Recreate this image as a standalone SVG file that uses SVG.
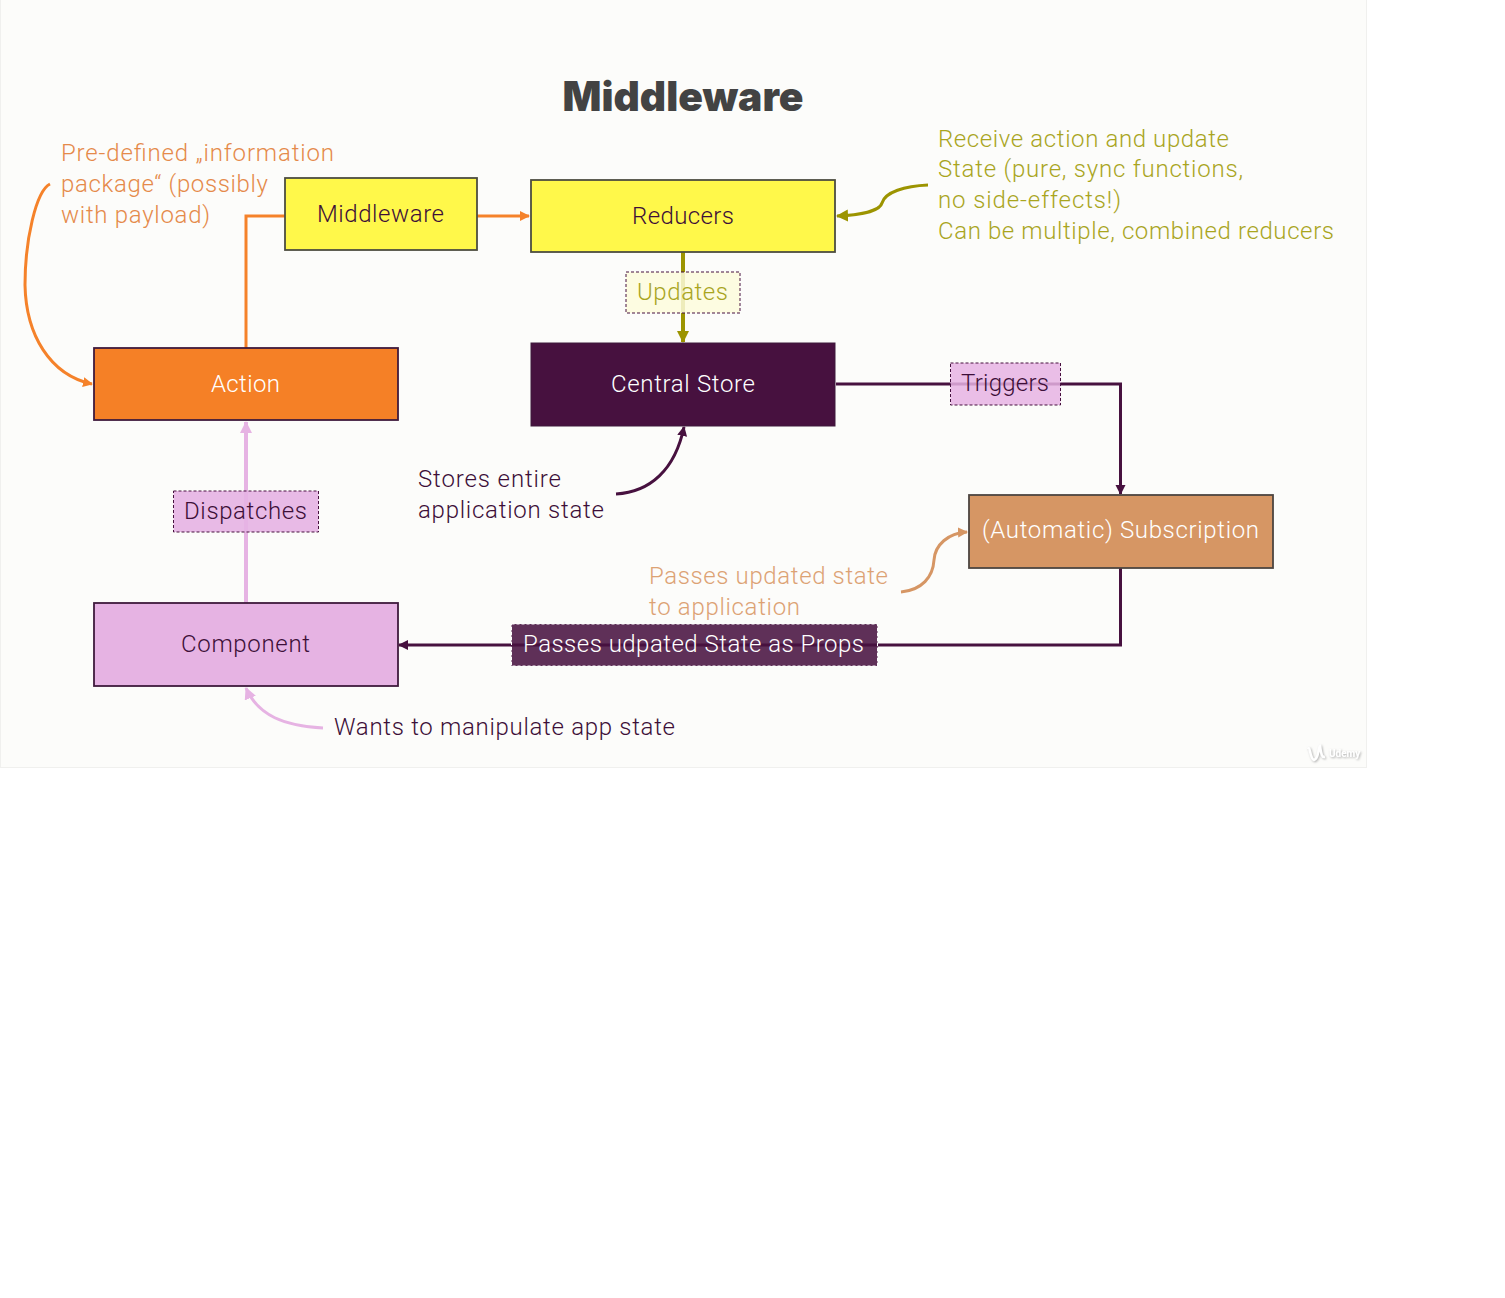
<svg xmlns="http://www.w3.org/2000/svg" width="1505" height="1298" viewBox="0 0 1505 1298">
<style>
text{font-family:"Roboto","Liberation Sans",sans-serif;font-weight:300;font-size:24px}
.c{text-anchor:middle}
.box{stroke:#3f1a3c;stroke-width:1.800}
.lab{stroke-width:1;stroke-dasharray:3 2}
.ln{fill:none;stroke-width:3}
.o{stroke:#f5822a}.p{stroke:#47113f}.l{stroke:#e6b3e3}.y{stroke:#9c9400}.t{stroke:#d69664}
.to{fill:#e58a4a}.ty{fill:#a9a51e}.tt{fill:#dca274}.td{fill:#3d0f38}.tw{fill:#fff}
</style>
<defs>
<marker id="ao" markerWidth="12" markerHeight="12" refX="9" refY="5" orient="auto" markerUnits="userSpaceOnUse"><path d="M0 0L10 5L0 10z" fill="#f5822a"/></marker>
<marker id="ap" markerWidth="12" markerHeight="12" refX="9" refY="5" orient="auto" markerUnits="userSpaceOnUse"><path d="M0 0L10 5L0 10z" fill="#47113f"/></marker>
<marker id="al" markerWidth="14" markerHeight="14" refX="11" refY="6" orient="auto" markerUnits="userSpaceOnUse"><path d="M0 0L12 6L0 12z" fill="#e6b3e3"/></marker>
<marker id="ay" markerWidth="14" markerHeight="14" refX="11" refY="6" orient="auto" markerUnits="userSpaceOnUse"><path d="M0 0L12 6L0 12z" fill="#9c9400"/></marker>
<marker id="at" markerWidth="12" markerHeight="12" refX="9" refY="5" orient="auto" markerUnits="userSpaceOnUse"><path d="M0 0L10 5L0 10z" fill="#d69664"/></marker>
<filter id="sh" x="-20%" y="-40%" width="140%" height="180%"><feDropShadow dx="1" dy="1" stdDeviation="1" flood-color="#999" flood-opacity=".8"/></filter>
</defs>
<rect width="1505" height="1298" fill="#fff"/>
<rect id="slide" x=".5" y="-1" width="1366" height="768.500" fill="#fcfcfa" stroke="#f0f0ee"/>
<text id="title" x="683" y="111" class="c" textLength="241" lengthAdjust="spacingAndGlyphs" style="font-family:'Inter','Lato',sans-serif;font-weight:900;font-size:41px" fill="#434343">Middleware</text>

<g id="connectors">
<path class="ln o" d="M246 348V216H285"/>
<path class="ln o" d="M477 216H529" marker-end="url(#ao)"/>
<path class="ln y" d="M683 252V342" style="stroke-width:4" marker-end="url(#ay)"/>
<path class="ln p" d="M836 384H1120.500V494" marker-end="url(#ap)"/>
<path class="ln p" d="M1120.500 568V645H399" marker-end="url(#ap)"/>
<path class="ln l" d="M246 603V422" style="stroke-width:4" marker-end="url(#al)"/>
<path class="ln o" d="M50 184C36 191 25 240 25 285C26 335 50 375 92 384" marker-end="url(#ao)"/>
<path class="ln y" d="M928 185C905 186 885 192 882 203C880 211 860 215 837 216" marker-end="url(#ay)"/>
<path class="ln p" d="M616 494C650 492 675 470 684 427" marker-end="url(#ap)"/>
<path class="ln t" d="M901 592C922 590 933 577 934 560C935 545 948 533 967 532" marker-end="url(#at)"/>
<path class="ln l" d="M323 728C285 726 258 716 246 688" marker-end="url(#al)"/>
</g>

<g id="middleware"><rect class="box" x="285" y="178" width="192" height="72" fill="#fff84a" style="stroke:#4d4d40"/><text class="c td" x="380.500" y="221.500" textLength="127">Middleware</text></g>
<g id="reducers"><rect class="box" x="531" y="180" width="304" height="72" fill="#fff84a" style="stroke:#4d4d40"/><text class="c td" x="683" y="223.500" textLength="102">Reducers</text></g>
<g id="action"><rect class="box" x="94" y="348" width="304" height="72" fill="#f58026"/><text class="c tw" x="245.500" y="391.500" textLength="69">Action</text></g>
<g id="central-store"><rect class="box" x="531" y="343" width="304" height="83" fill="#47113f" style="stroke-width:1"/><text class="c tw" x="683" y="391.500" textLength="144">Central Store</text></g>
<g id="subscription"><rect class="box" x="969" y="495" width="304" height="73" fill="#d69664" style="stroke:#4d4540"/><text class="c tw" x="1120.500" y="538" textLength="277">(Automatic) Subscription</text></g>
<g id="component"><rect class="box" x="94" y="603" width="304" height="83" fill="#e6b3e3"/><text class="c td" x="245.500" y="651.500" textLength="129">Component</text></g>

<g id="label-updates"><rect class="lab p" x="626" y="272" width="114" height="41" fill="#fdfbdc" fill-opacity=".85"/><text class="c ty" x="682.500" y="300" textLength="91">Updates</text></g>
<g id="label-triggers"><rect class="lab p" x="950.500" y="363" width="110" height="42" fill="#e6b3e3" fill-opacity=".85"/><text class="c td" x="1005" y="391" textLength="88">Triggers</text></g>
<g id="label-dispatches"><rect class="lab p" x="173.500" y="491" width="145" height="41" fill="#e6b3e3" fill-opacity=".9"/><text class="c td" x="245.500" y="519" textLength="123">Dispatches</text></g>
<g id="label-props"><rect class="lab" x="511.500" y="624" width="366" height="42" fill="#47113f" fill-opacity=".87" stroke="#fff"/><text class="c tw" x="693.500" y="652" textLength="341">Passes udpated State as Props</text></g>

<g id="notes">
<text class="to" x="61" y="161" textLength="273">Pre-defined „information</text>
<text class="to" x="61" y="192" textLength="207">package“ (possibly</text>
<text class="to" x="61" y="222.500" textLength="149">with payload)</text>
<text class="ty" x="938" y="146.500" textLength="291">Receive action and update</text>
<text class="ty" x="938" y="177" textLength="305">State (pure, sync functions,</text>
<text class="ty" x="938" y="207.500" textLength="183">no side-effects!)</text>
<text class="ty" x="938" y="238.500" textLength="396">Can be multiple, combined reducers</text>
<text class="td" x="418" y="487" textLength="143">Stores entire</text>
<text class="td" x="418" y="518" textLength="186">application state</text>
<text class="tt" x="649" y="584" textLength="239">Passes updated state</text>
<text class="tt" x="649" y="614.500" textLength="151">to application</text>
<text class="td" x="334" y="734.500" textLength="341">Wants to manipulate app state</text>
</g>
<g id="watermark" filter="url(#sh)"><path d="M1308 749C1310 745 1310 759 1314 760C1319 759 1318 747 1320 746C1321 751 1321 758 1325 757" fill="none" stroke="#fff" stroke-width="2.500"/><text x="1329" y="757" style="font-size:10px;font-weight:700" fill="#fff">Udemy</text></g>
</svg>
